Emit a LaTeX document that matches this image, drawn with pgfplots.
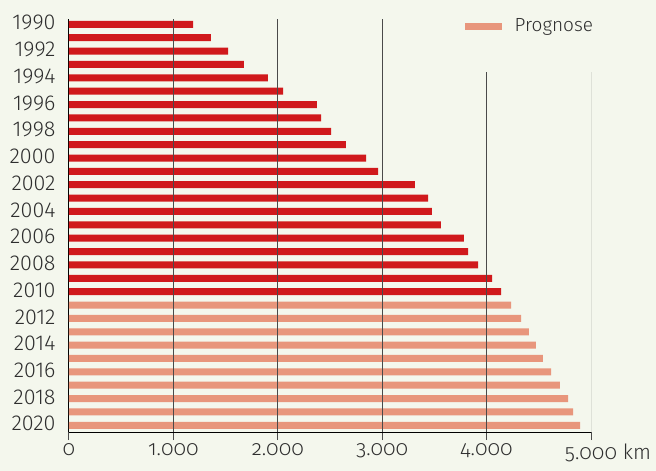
\documentclass[border=0pt]{standalone}
\usepackage{pgfplots}
\pgfplotsset{compat=1.18}
\usepackage{fontspec}
\setmainfont{Fira Sans Light}
\definecolor{bg}{HTML}{F4F7ED}
\definecolor{ist}{HTML}{D0191C}
\definecolor{prog}{HTML}{E8967C}
\definecolor{txt}{HTML}{2E2E2E}
\definecolor{gridc}{HTML}{4A4A4A}

\begin{document}
\begin{tikzpicture}
\path[use as bounding box, fill=bg] (-69pt,-39pt) rectangle (587pt,432pt);
\begin{axis}[
  scale only axis,
  width=522pt, height=413pt,
  xmin=0, xmax=5000,
  ymin=1989.6, ymax=2020.5,
  y dir=reverse,
  xbar, bar width=7pt, bar shift=0pt,
  axis x line*=bottom, axis y line*=left,
  axis line style={black, line width=1pt, -},
  xtick={0,1000,...,5000},
  xticklabels={0,1.000,2.000,3.000,4.000,{5.000\rlap{ km}}},
  ytick={1990,1992,...,2020},
  yticklabels={1990,1992,1994,1996,1998,2000,2002,2004,2006,2008,2010,2012,2014,2016,2018,2020},
  tick align=outside,
  major tick length=8pt,
  xtick style={gridc, line width=1pt},
  ytick style={draw=none},
  every tick label/.append style={text=txt},
  yticklabel style={font=\fontsize{21.5}{24}\selectfont, xshift=-2pt, yshift=1.5pt},
  xticklabel style={font=\fontsize{21}{24}\selectfont\addfontfeatures{Numbers=OldStyle}},
  legend style={at={(axis cs:3760,1990.13)}, anchor=west, draw=none, fill=none,
    font=\fontsize{19}{24}\selectfont, text=txt,
    nodes={inner xsep=0pt}},
  legend image code/.code={\fill[#1] (0pt,-3.5pt) rectangle (37pt,3.5pt);},
  legend cell align=left,
  /tikz/every odd column/.append style={column sep=13pt},
]
\addplot[fill=ist, draw=none, forget plot] coordinates {
(1188,1990) (1360,1991) (1523,1992) (1676,1993) (1906,1994) (2050,1995)
(2375,1996) (2414,1997) (2510,1998) (2653,1999) (2845,2000) (2960,2001)
(3314,2002) (3439,2003) (3477,2004) (3563,2005) (3783,2006) (3822,2007)
(3918,2008) (4052,2009) (4138,2010)
};
\addplot[fill=prog, draw=none] coordinates {
(4234,2011) (4330,2012) (4406,2013) (4473,2014) (4540,2015)
(4617,2016) (4703,2017) (4780,2018) (4828,2019) (4895,2020)
};
\addlegendentry{Prognose}
\pgfplotsinvokeforeach{1000,2000,3000}{
  \draw[gridc, line width=1pt] (axis cs:#1,1989.6) -- (axis cs:#1,2020.5);
}
\pgfplotsinvokeforeach{4000,5000}{
  \draw[gridc, line width=1pt] (axis cs:#1,1993.57) -- (axis cs:#1,2020.5);
}
\end{axis}
\end{tikzpicture}
\end{document}
